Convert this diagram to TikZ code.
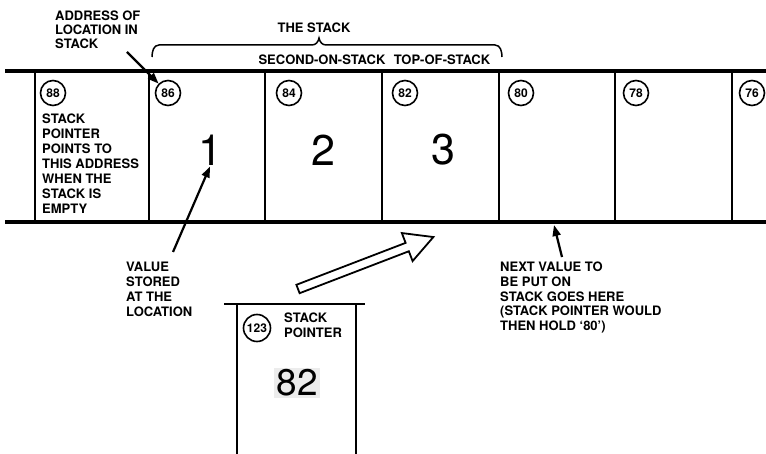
\documentclass[tikz,border=0pt]{standalone}
\usepackage{fontspec}
\setmainfont{TeX Gyre Heros}
\usetikzlibrary{arrows.meta}

\begin{document}
\begin{tikzpicture}[
  x=1pt, y=-1pt,
  font=\bfseries\fontsize{13}{15}\selectfont,
  rail/.style={line width=4pt},
  wall/.style={line width=1.8pt},
  addr/.style={circle, draw, line width=1.6pt, minimum size=25pt, inner sep=0pt, font=\bfseries\fontsize{12}{12}\selectfont},
  big/.style={font=\mdseries\fontsize{43}{43}\selectfont, inner sep=1pt},
  lbl/.style={align=left, anchor=north west, inner sep=0pt},
  ptr/.style={-{Triangle[length=11pt,width=8pt]}, line width=2.2pt},
]
\useasboundingbox (0,0) rectangle (766,454);

% the stack in memory
\draw[rail] (5,71) -- (766,71);
\draw[rail] (5,222) -- (766,222);
\foreach \x in {35,149,265,382,499,615,732}
  \draw[wall] (\x,71) -- (\x,222);
\foreach \a/\x in {88/53,86/168,84/289,82/405,80/521,78/636,76/752}
  \node[addr] (a\a) at (\x,93) {\a};
\node[big] (d1) at (210,150) {1};
\node[big] (d2) at (323,150) {2};
\node[big] (d3) at (443,150) {3};
\node[lbl] (empty) at (42,114) {STACK\\POINTER\\POINTS TO\\THIS ADDRESS\\WHEN THE\\STACK IS\\EMPTY};

% brace over the used part
\draw[line width=1.5pt] (152,57) to[out=90,in=180] (159,45) -- (312,45) to[out=0,in=-100] (319,38)
  to[out=-80,in=180] (326,45) -- (495,45) to[out=0,in=90] (502,57);
\node (stk) at (314,28) {THE STACK};
\node (sos) at (322,60) {SECOND-ON-STACK};
\node (tos) at (442,60) {TOP-OF-STACK};

% labels and pointers
\node[lbl] (addrlbl) at (55,11) [font=\bfseries\fontsize{13}{14}\selectfont] {ADDRESS OF\\LOCATION IN\\STACK};
\coordinate (addrtail) at (127,52);
\draw[ptr] (addrtail) -- (a86.north west);

\node[lbl] (valtext) at (126,262) {VALUE\\STORED\\AT THE\\LOCATION};
\coordinate (valtail) at (173,252);
\draw[ptr] (valtail) -- (d1.south);

\node[lbl] (nexttext) at (500,262) [font=\bfseries\fontsize{13}{14.7}\selectfont] {NEXT VALUE TO\\BE PUT ON\\STACK GOES HERE\\(STACK POINTER WOULD\\THEN HOLD `80')};
\coordinate (nexttail) at (562,257);
\coordinate (nexttip) at (554,225);
\draw[ptr] (nexttail) -- (nexttip);

% stack pointer register
\draw[line width=2.6pt] (224,304) -- (365,304);
\draw[wall] (237,304) -- (237,454);
\draw[wall] (356,304) -- (356,454);
\node[addr, minimum size=27pt] (a123) at (257,328) {123};
\node[lbl] (sptitle) at (284,313) {STACK\\POINTER};
\node[font=\mdseries\fontsize{37}{37}\selectfont, fill=gray!15, inner sep=2pt] (spval) at (297,383) {82};

% hollow arrow: pointer into the stack
\coordinate (sptail) at (298,289);
\begin{scope}[shift={(sptail)}, rotate=21]
  \draw[line width=1.8pt, fill=white, line join=miter] (0,-4.5) -- (117,-4.5) -- (117,-15) -- (145,0)
    -- (117,15) -- (117,4.5) -- (0,4.5) -- cycle;
\end{scope}
\end{tikzpicture}
\end{document}
